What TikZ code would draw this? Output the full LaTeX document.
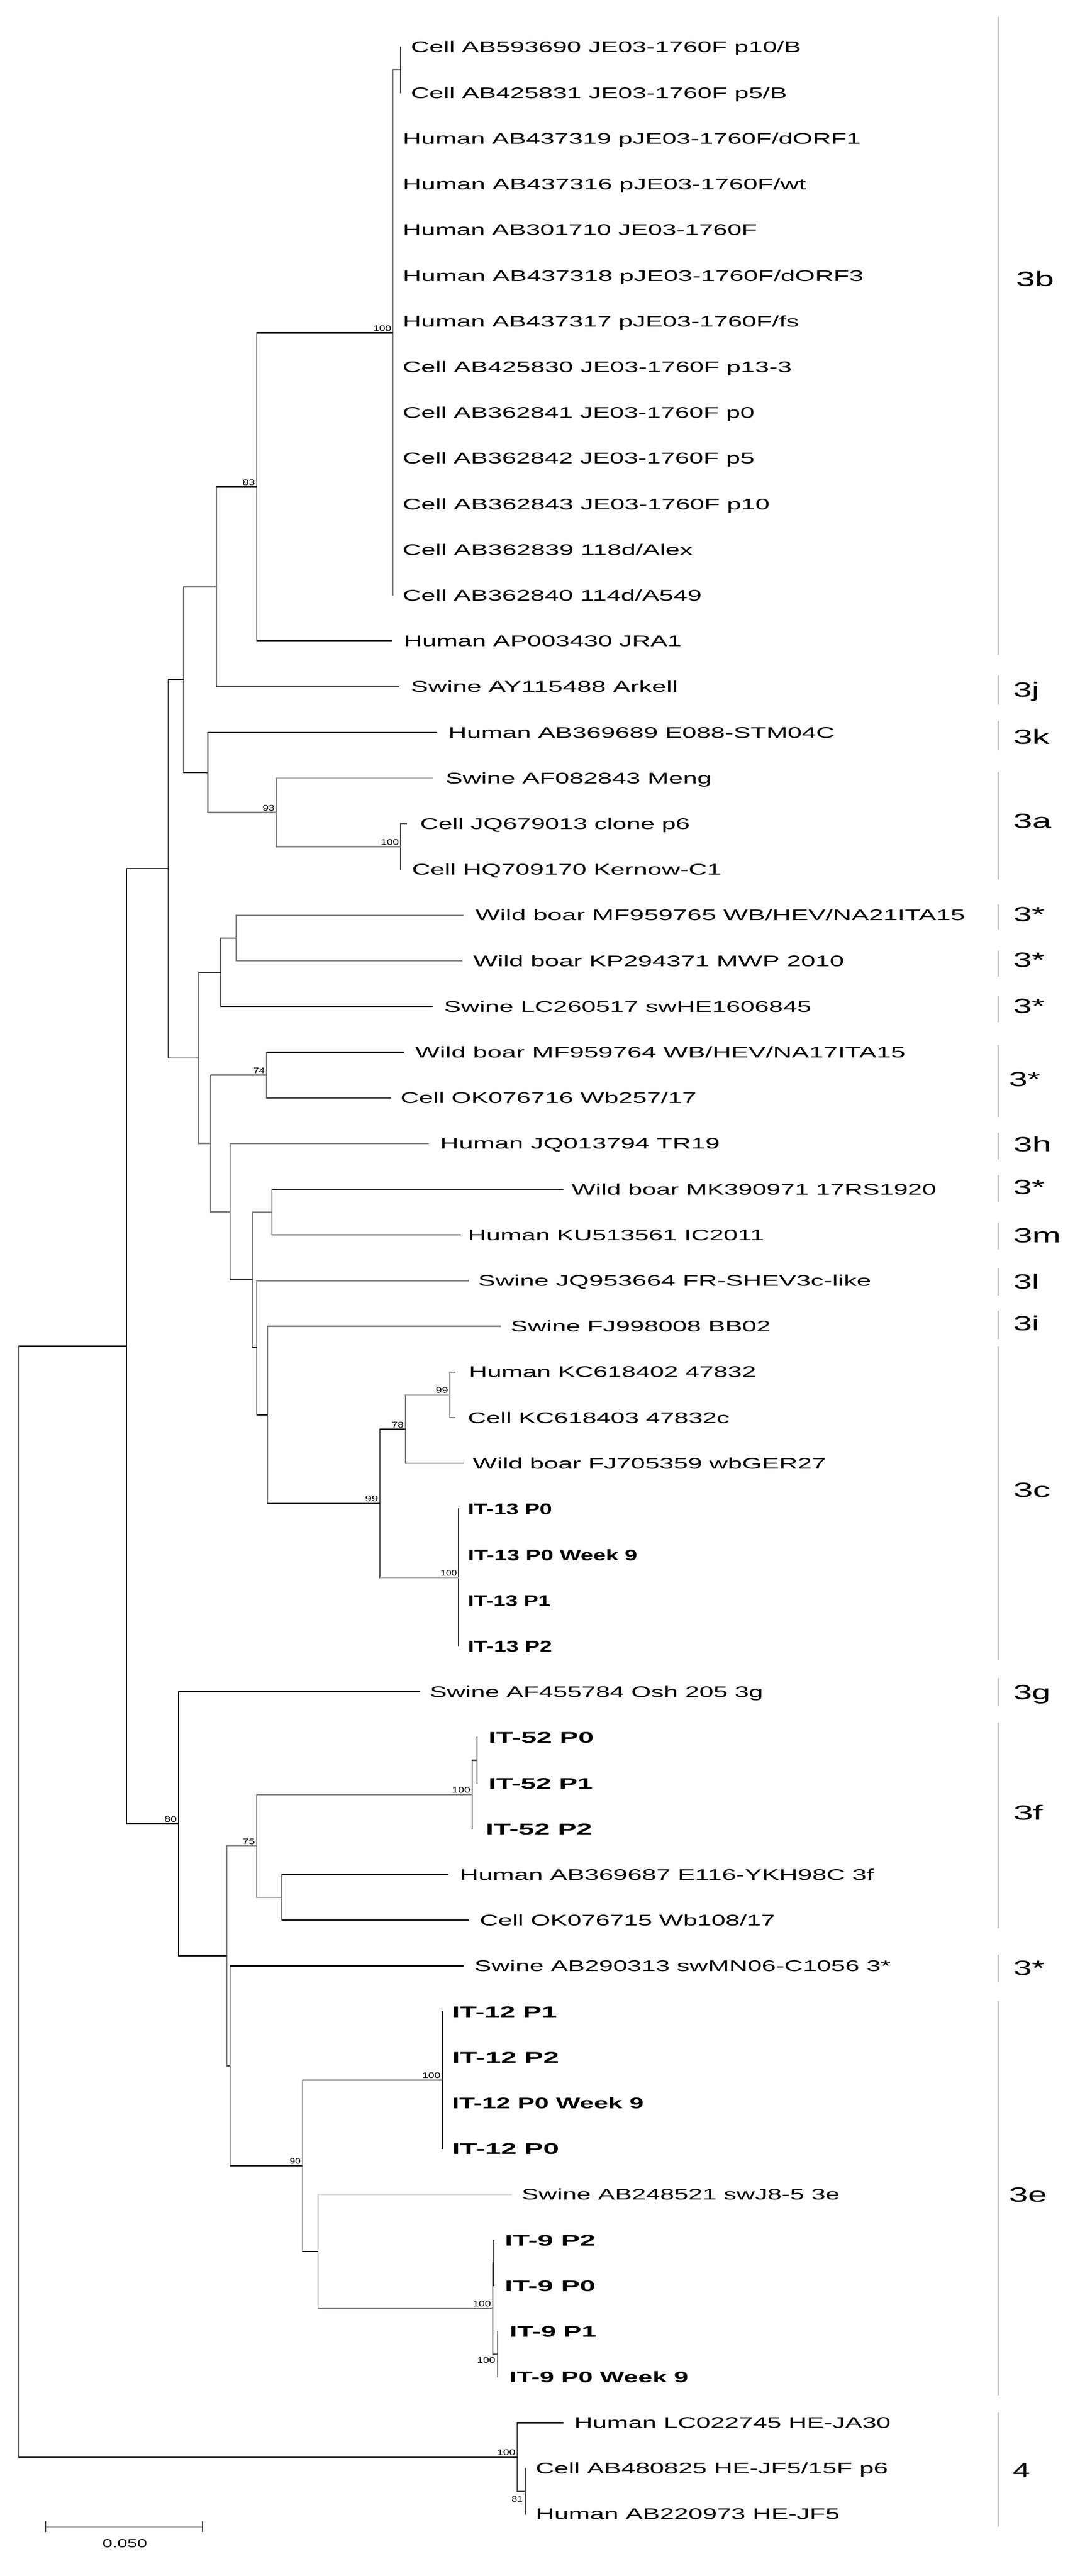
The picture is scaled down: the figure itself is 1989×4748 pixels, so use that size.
\documentclass[tikz,border=0pt]{standalone}
\usepackage{fontspec}
\setmainfont{Liberation Sans}
\usepackage{graphicx}
\usetikzlibrary{calc}
\definecolor{cDG}{HTML}{4A4A4A}
\definecolor{cGR}{HTML}{7F7F7F}
\definecolor{cLG}{HTML}{B4B4B4}
\definecolor{cVL}{HTML}{D6D6D6}
\definecolor{cBR}{HTML}{C8C8C8}
\newcommand\rbox[2]{\resizebox{#1pt}{\height}{#2}}
\newcommand\leaffont{\fontsize{28.5}{30}\selectfont}
\newcommand\leaf[6]{\coordinate (L#1) at (#2,#3); \node[lt] (T#1) at (#4,#3+10) {\rbox{#5}{#6}};}
\newcommand\leafb[6]{\coordinate (L#1) at (#2,#3); \node[ltb] (T#1) at (#4,#3+10.5) {\rbox{#5}{#6}};}
\newcommand\boot[4]{\node[bsl] (B#1) at ($(#1)+#4$) {\rbox{#3}{#2}};}
\newcommand\hb[3]{\draw[hz,#3] (#1 |- #2) -- (#2);}
\newcommand\vb[4]{\draw[vt,#4] (#1 |- #2) -- (#1 |- #3);}
\begin{document}
\begin{tikzpicture}[x=1pt,y=-1pt,
  hz/.style={line width=2.4pt},
  vt/.style={line width=2pt,line cap=rect},
  lt/.style={anchor=base west,inner sep=0pt,font=\leaffont},
  ltb/.style={anchor=base west,inner sep=0pt,font=\leaffont\bfseries},
  bsl/.style={anchor=base east,inner sep=0pt,font=\fontsize{15}{16}\selectfont},
  cl/.style={anchor=base west,inner sep=0pt,font=\fontsize{38}{40}\selectfont},
  bracket/.style={draw=cBR,line width=3pt}]
\fill[white] (0,0) rectangle (1989,4748);
\useasboundingbox (0,0) rectangle (1989,4748);

% ---------- internal nodes ----------
\coordinate (Nsub) at (738,129.1);
\coordinate (N3b) at (724,613.3);
\coordinate (N83) at (473,897.4);
\coordinate (N399) at (399,1081.6);
\coordinate (N338) at (338,1252.6);
\coordinate (N383) at (383,1423.7);
\coordinate (N509) at (509,1497.4);
\coordinate (N738) at (738,1560.5);
\coordinate (N310) at (310,1601.2);
\coordinate (N366) at (366,1949.8);
\coordinate (N407) at (407,1792.1);
\coordinate (N435) at (435,1728.9);
\coordinate (N388) at (388,2107.5);
\coordinate (N491) at (491,1981.5);
\coordinate (N424) at (424,2233.5);
\coordinate (N465) at (465,2359.1);
\coordinate (N501) at (501,2234.1);
\coordinate (N473) at (473,2484.1);
\coordinate (N493) at (493,2607.8);
\coordinate (N700) at (700,2770.9);
\coordinate (N747) at (747,2634.1);
\coordinate (N829) at (829,2570.9);
\coordinate (N845) at (845,2907.7);
\coordinate (N233) at (233,2481.4);
\coordinate (N329) at (329,3361.6);
\coordinate (N418) at (418,3605.0);
\coordinate (N473b) at (473,3402.4);
\coordinate (N870) at (870,3307.7);
\coordinate (N879) at (879,3244.5);
\coordinate (N519) at (519,3497.1);
\coordinate (N424b) at (424,3807.6);
\coordinate (N557) at (557,3991.8);
\coordinate (N815) at (815,3833.9);
\coordinate (N586) at (586,4149.7);
\coordinate (N908) at (908,4254.9);
\coordinate (NB) at (910,4170.7);
\coordinate (NC) at (917,4339.1);
\coordinate (N953) at (953,4528.6);
\coordinate (N968) at (968,4591.7);
\coordinate (Root) at (35,3505.0);

% ---------- leaves ----------
\leaf{1}{738}{87.0}{757}{719}{Cell AB593690 JE03-1760F p10/B}
\leaf{2}{738}{171.2}{757}{693}{Cell AB425831 JE03-1760F p5/B}
\leaf{3}{724}{255.4}{742}{844}{Human AB437319 pJE03-1760F/dORF1}
\leaf{4}{724}{339.6}{742}{743}{Human AB437316 pJE03-1760F/wt}
\leaf{5}{724}{423.8}{742}{653}{Human AB301710 JE03-1760F}
\leaf{6}{724}{508.0}{742}{849}{Human AB437318 pJE03-1760F/dORF3}
\leaf{7}{724}{592.2}{742}{730}{Human AB437317 pJE03-1760F/fs}
\leaf{8}{724}{676.4}{742}{717}{Cell AB425830 JE03-1760F p13-3}
\leaf{9}{724}{760.6}{742}{648}{Cell AB362841 JE03-1760F p0}
\leaf{10}{724}{844.8}{742}{648}{Cell AB362842 JE03-1760F p5}
\leaf{11}{724}{929.0}{742}{676}{Cell AB362843 JE03-1760F p10}
\leaf{12}{724}{1013.2}{742}{534}{Cell AB362839 118d/Alex}
\leaf{13}{724}{1097.4}{742}{551}{Cell AB362840 114d/A549}
\leaf{14}{723}{1181.6}{744}{512}{Human AP003430 JRA1}
\leaf{15}{736}{1265.8}{757}{492}{Swine AY115488 Arkell}
\leaf{16}{805}{1350.0}{826}{712}{Human AB369689 E088-STM04C}
\leaf{17}{797}{1434.2}{821}{490}{Swine AF082843 Meng}
\leaf{18}{750}{1518.4}{774}{497}{Cell JQ679013 clone p6}
\leaf{19}{738}{1602.6}{759}{570}{Cell HQ709170 Kernow-C1}
\leaf{20}{854}{1686.8}{876}{902}{Wild boar MF959765 WB/HEV/NA21ITA15}
\leaf{21}{852}{1771.0}{872}{683}{Wild boar KP294371 MWP 2010}
\leaf{22}{797}{1855.2}{818}{677}{Swine LC260517 swHE1606845}
\leaf{23}{744}{1939.4}{765}{903}{Wild boar MF959764 WB/HEV/NA17ITA15}
\leaf{24}{721}{2023.6}{738}{545}{Cell OK076716 Wb257/17}
\leaf{25}{790}{2107.8}{811}{515}{Human JQ013794 TR19}
\leaf{26}{1038}{2192.0}{1053}{672}{Wild boar MK390971 17RS1920}
\leaf{27}{849}{2276.2}{862}{546}{Human KU513561 IC2011}
\leaf{28}{864}{2360.4}{881}{724}{Swine JQ953664 FR-SHEV3c-like}
\leaf{29}{923}{2444.6}{941}{479}{Swine FJ998008 BB02}
\leaf{30}{839}{2528.8}{864}{529}{Human KC618402 47832}
\leaf{31}{839}{2613.0}{862}{482}{Cell KC618403 47832c}
\leaf{32}{854}{2697.2}{871}{651}{Wild boar FJ705359 wbGER27}
\leafb{33}{845}{2781.4}{862}{155}{IT-13 P0}
\leafb{34}{845}{2865.6}{862}{312}{IT-13 P0 Week 9}
\leafb{35}{845}{2949.8}{862}{152}{IT-13 P1}
\leafb{36}{845}{3034.0}{862}{155}{IT-13 P2}
\leaf{37}{774}{3118.2}{792}{614}{Swine AF455784 Osh 205 3g}
\leafb{38}{879}{3202.4}{900}{194}{IT-52 P0}
\leafb{39}{879}{3286.6}{900}{192}{IT-52 P1}
\leafb{40}{870}{3370.8}{895}{196}{IT-52 P2}
\leaf{41}{826}{3455.0}{847}{763}{Human AB369687 E116-YKH98C 3f}
\leaf{42}{864}{3539.2}{884}{544}{Cell OK076715 Wb108/17}
\leaf{43}{854}{3623.4}{874}{767}{Swine AB290313 swMN06-C1056 3*}
\leafb{44}{815}{3707.6}{833}{193}{IT-12 P1}
\leafb{45}{815}{3791.8}{833}{197}{IT-12 P2}
\leafb{46}{815}{3876.0}{833}{353}{IT-12 P0 Week 9}
\leafb{47}{815}{3960.2}{833}{197}{IT-12 P0}
\leaf{48}{943}{4044.4}{961}{586}{Swine AB248521 swJ8-5 3e}
\leafb{49}{910}{4128.6}{930}{167}{IT-9 P2}
\leafb{50}{910}{4212.8}{930}{167}{IT-9 P0}
\leafb{51}{917}{4297.0}{939}{160}{IT-9 P1}
\leafb{52}{917}{4381.2}{939}{329}{IT-9 P0 Week 9}
\leaf{53}{1038}{4465.4}{1058}{583}{Human LC022745 HE-JA30}
\leaf{54}{968}{4549.6}{987}{649}{Cell AB480825 HE-JF5/15F p6}
\leaf{55}{968}{4633.8}{987}{560}{Human AB220973 HE-JF5}

% ---------- vertical lines ----------
\vb{Nsub}{L1}{L2}{cDG}
\vb{N3b}{Nsub}{L13}{cGR}
\vb{N83}{N3b}{L14}{cGR}
\vb{N399}{N83}{L15}{cGR}
\vb{N338}{N399}{N383}{cGR}
\vb{N383}{L16}{N509}{black}
\vb{N509}{L17}{N738}{cGR}
\vb{N738}{L18}{L19}{cDG}
\vb{N310}{N338}{N366}{cDG}
\vb{N366}{N407}{N388}{cGR}
\vb{N407}{N435}{L22}{black}
\vb{N435}{L20}{L21}{cGR}
\vb{N388}{N491}{N424}{cGR}
\vb{N491}{L23}{L24}{cGR}
\vb{N424}{L25}{N465}{cGR}
\vb{N465}{N501}{N473}{cGR}
\vb{N501}{L26}{L27}{cGR}
\vb{N473}{L28}{N493}{cGR}
\vb{N493}{L29}{N700}{cGR}
\vb{N700}{N747}{N845}{cDG}
\vb{N747}{N829}{L32}{cGR}
\vb{N829}{L30}{L31}{cDG}
\vb{N845}{L33}{L36}{black}
\vb{N233}{N310}{N329}{black}
\vb{N329}{L37}{N418}{black}
\vb{N418}{N473b}{N424b}{cGR}
\vb{N473b}{N870}{N519}{cGR}
\vb{N870}{N879}{L40}{cDG}
\vb{N879}{L38}{L39}{cDG}
\vb{N519}{L41}{L42}{cGR}
\vb{N424b}{L43}{N557}{cGR}
\vb{N557}{N815}{N586}{cLG}
\vb{N815}{L44}{L47}{black}
\vb{N586}{L48}{N908}{cLG}
\vb{N908}{NB}{NC}{cDG}
\vb{NB}{L49}{L50}{black}
\vb{NC}{L51}{L52}{cDG}
\vb{Root}{N233}{N953}{black}
\vb{N953}{L53}{N968}{cDG}
\vb{N968}{L54}{L55}{cDG}

% ---------- horizontal branches ----------
\hb{N3b}{Nsub}{black}
\hb{N83}{N3b}{black}
\hb{N83}{L14}{black}
\hb{N399}{N83}{black}
\hb{N399}{L15}{black}
\hb{N338}{N399}{cGR}
\hb{N338}{N383}{black}
\hb{N383}{L16}{black}
\hb{N383}{N509}{cGR}
\hb{N509}{L17}{cLG}
\hb{N509}{N738}{cGR}
\hb{N738}{L18}{cDG}
\hb{N310}{N338}{black}
\hb{N310}{N366}{cGR}
\hb{N366}{N407}{black}
\hb{N407}{N435}{black}
\hb{N435}{L20}{cGR}
\hb{N435}{L21}{cGR}
\hb{N407}{L22}{black}
\hb{N366}{N388}{cGR}
\hb{N388}{N491}{cGR}
\hb{N491}{L23}{black}
\hb{N491}{L24}{cDG}
\hb{N388}{N424}{cGR}
\hb{N424}{L25}{cGR}
\hb{N424}{N465}{black}
\hb{N465}{N501}{cGR}
\hb{N501}{L26}{black}
\hb{N501}{L27}{black}
\hb{N465}{N473}{black}
\hb{N473}{L28}{cGR}
\hb{N473}{N493}{black}
\hb{N493}{L29}{cGR}
\hb{N493}{N700}{black}
\hb{N700}{N747}{black}
\hb{N747}{N829}{cLG}
\hb{N829}{L30}{cDG}
\hb{N829}{L31}{cDG}
\hb{N747}{L32}{cGR}
\hb{N700}{N845}{cLG}
\hb{N233}{N310}{black}
\hb{N233}{N329}{black}
\hb{N329}{L37}{black}
\hb{N329}{N418}{black}
\hb{N418}{N473b}{cGR}
\hb{N473b}{N870}{cGR}
\hb{N870}{N879}{cDG}
\hb{N473b}{N519}{cGR}
\hb{N519}{L41}{black}
\hb{N519}{L42}{black}
\hb{N418}{N424b}{cDG}
\hb{N424b}{L43}{black}
\hb{N424b}{N557}{black}
\hb{N557}{N815}{black}
\hb{N557}{N586}{black}
\hb{N586}{L48}{cVL}
\hb{N586}{N908}{cGR}
\hb{N908}{NB}{black}
\hb{N908}{NC}{cDG}
\hb{Root}{N233}{black}
\hb{Root}{N953}{black}
\hb{N953}{L53}{black}
\hb{N953}{N968}{cDG}

% ---------- bootstrap values ----------
\boot{N3b}{100}{33}{(-3,-3)}
\boot{N83}{83}{23}{(-3,-3)}
\boot{N509}{93}{22}{(-3,-3)}
\boot{N738}{100}{33}{(-3,-3)}
\boot{N491}{74}{21}{(-3,-3)}
\boot{N829}{99}{23}{(-3,-3)}
\boot{N747}{78}{22}{(-3,-3)}
\boot{N700}{99}{24}{(-3,-3)}
\boot{N845}{100}{30}{(-3,-3)}
\boot{N329}{80}{23}{(-3,-3)}
\boot{N473b}{75}{23}{(-3,-3)}
\boot{N870}{100}{34}{(-3,-3)}
\boot{N815}{100}{34}{(-3,-3)}
\boot{N557}{90}{20}{(-3,-3)}
\boot{N908}{100}{34}{(-3,-3)}
\boot{NC}{100}{34}{(-4,16)}
\boot{N953}{100}{34}{(-3,-3)}
\boot{N968}{81}{20}{(-5,20)}

% ---------- clade brackets ----------
\foreach \t/\b [count=\k] in {31/1207,1245/1299,1329/1382,1423/1621,1667/1713,1752/1800,1836/1884,1926/2059,2088/2137,2166/2216,2253/2303,2337/2388,2416/2468,2482/3060,3093/3144,3175/3554,3603/3654,3688/4415,4447/4657}{
  \coordinate (BT\k) at (1839,\t);
  \coordinate (BB\k) at (1839,\b);
  \draw[bracket] (BT\k) -- (BB\k);
}

% ---------- clade labels ----------
\node[cl] (C1) at (1872,527.5) {\rbox{70}{3b}};
\node[cl] (C2) at (1867,1284.5) {\rbox{48}{3j}};
\node[cl] (C3) at (1867,1371.5) {\rbox{67}{3k}};
\node[cl] (C4) at (1867,1526.5) {\rbox{70}{3a}};
\node[cl] (C5) at (1867,1698.5) {\rbox{58}{3*}};
\node[cl] (C6) at (1867,1782.5) {\rbox{58}{3*}};
\node[cl] (C7) at (1867,1867.5) {\rbox{58}{3*}};
\node[cl] (C8) at (1859,2002.5) {\rbox{58}{3*}};
\node[cl] (C9) at (1867,2122.5) {\rbox{70}{3h}};
\node[cl] (C10) at (1867,2201.5) {\rbox{58}{3*}};
\node[cl] (C11) at (1867,2290.5) {\rbox{88}{3m}};
\node[cl] (C12) at (1867,2375.5) {\rbox{48}{3l}};
\node[cl] (C13) at (1867,2452.5) {\rbox{48}{3i}};
\node[cl] (C14) at (1867,2759.5) {\rbox{69}{3c}};
\node[cl] (C15) at (1867,3132.5) {\rbox{69}{3g}};
\node[cl] (C16) at (1867,3354.5) {\rbox{55}{3f}};
\node[cl] (C17) at (1867,3640.5) {\rbox{58}{3*}};
\node[cl] (C18) at (1859,4058.5) {\rbox{70}{3e}};
\node[cl] (C19) at (1866,4566.5) {\rbox{32}{4}};

% ---------- scale bar ----------
\coordinate (SL) at (84,4657);
\coordinate (SR) at (373,4657);
\draw[cLG,line width=3pt] (SL) -- (SR);
\draw[cDG,line width=1.6pt] ($(SL)+(0,-10)$) -- ($(SL)+(0,10)$);
\draw[cDG,line width=1.6pt] ($(SR)+(0,-10)$) -- ($(SR)+(0,10)$);
\node[inner sep=0pt,font=\fontsize{22}{24}\selectfont] (ST) at (230,4688) {\rbox{82}{0.050}};
\end{tikzpicture}
\end{document}
